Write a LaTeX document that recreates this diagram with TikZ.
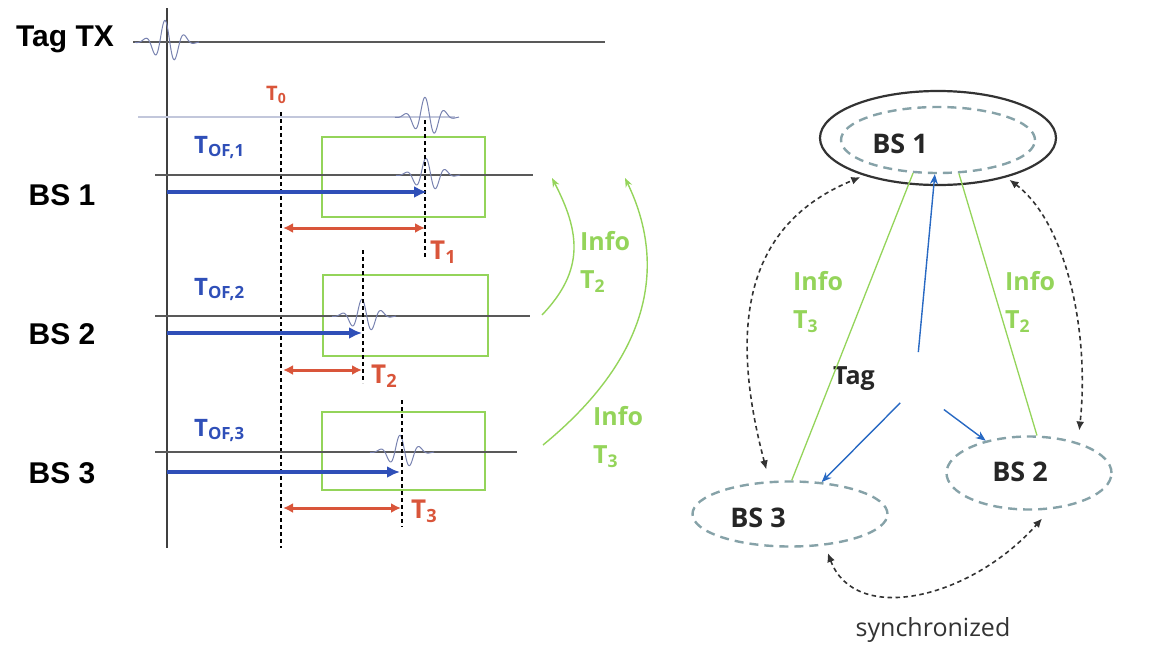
\documentclass[tikz,border=0pt]{standalone}
\usepackage{fontspec}
\setmainfont{Liberation Sans}
\newfontfamily\gillfont{Open Sans}
\usetikzlibrary{arrows.meta,positioning,calc,shapes.geometric}
\definecolor{tofblue}{HTML}{2F4FB8}
\definecolor{delayred}{HTML}{D9553A}
\definecolor{infogreen}{HTML}{94D45A}
\definecolor{wavegray}{HTML}{7882B0}
\definecolor{bsdash}{HTML}{86A2A8}
\newcommand{\wavelet}[3]{%
  \draw[wave] plot[domain=-32:32, samples=120, smooth] ({#1+(\x)},{#2-#3*cos(18*(\x)+40)*exp(-(\x)*(\x)/260)});}
\tikzset{
  axisline/.style={draw=black!75, line width=1.6pt},
  timeline/.style={draw=black!65, line width=1.4pt},
  faintline/.style={draw=wavegray!45, line width=1.2pt},
  wave/.style={draw=wavegray, line width=1pt},
  window/.style={draw=infogreen, line width=1.5pt},
  marker/.style={draw=black, line width=1.2pt, dash pattern=on 4pt off 3pt},
  tofarrow/.style={draw=tofblue, line width=3.5pt, -{Latex[length=13pt,width=12pt]}},
  delayarrow/.style={draw=delayred, line width=3pt, {Latex[length=10pt,width=10pt]}-{Latex[length=10pt,width=10pt]}},
  infoarc/.style={draw=infogreen, line width=1.4pt, -{Stealth[length=9pt,width=7pt]}},
  infoline/.style={draw=infogreen, line width=1.3pt},
  rowlabel/.style={font=\fontsize{30}{30}\selectfont\bfseries, anchor=base},
  toflabel/.style={font=\gillfont\bfseries\fontsize{24}{24}\selectfont, text=tofblue, anchor=base west, inner sep=0pt},
  delaylabel/.style={font=\gillfont\bfseries\fontsize{#1}{#1}\selectfont, text=delayred, anchor=base west, inner sep=0pt},
  delaylabel/.default=26,
  infolabel/.style={font=\gillfont\bfseries\fontsize{25}{38}\selectfont, text=infogreen, align=left, anchor=north west, inner sep=0pt},
  bsnode/.style={ellipse, draw=bsdash, line width=2.4pt, dash pattern=on 9pt off 6pt, inner sep=0pt},
  bslabel/.style={font=\gillfont\bfseries\fontsize{27}{27}\selectfont, text=black!85},
  tagarrow/.style={draw=tofblue!85!cyan, line width=1.4pt, -{Stealth[length=10pt,width=8pt]}},
  syncarrow/.style={draw=black!80, line width=1.6pt, dash pattern=on 4.5pt off 3.5pt, {Latex[length=9pt,width=8pt]}-{Latex[length=9pt,width=8pt]}}
}
\begin{document}
\begin{tikzpicture}[x=1pt, y=-1pt]
\useasboundingbox (0,0) rectangle (1149,648);
% time axis, tag pulse and reference line
\draw[axisline] (167,8) -- (167,548);
\node[rowlabel] (tagtx) at (65,46) {Tag TX};
\draw[timeline] (133,42) -- (605,42);
\wavelet{167}{42}{22}
\draw[faintline] (138,117) -- (455,117);
\wavelet{427}{117}{20}
\node[delaylabel=20] (tzero) at (266,100) {T\textsubscript{0}};
\draw[marker] (281,112) -- (281,548);

% BS 1
\node[rowlabel] (bsone) at (62,205) {BS 1};
\draw[window] (322,137) rectangle (485,217);
\draw[timeline] (155,175) -- (533,175);
\wavelet{428}{175}{17}
\draw[marker] (425,120) -- (425,258);
\draw[tofarrow] (167,192) -- (427,192);
\draw[delayarrow] (283,228) -- (425,228);
\node[toflabel] (tofone) at (194,153) {T\textsubscript{OF,1}};
\node[delaylabel] (tone) at (430,259) {T\textsubscript{1}};

% BS 2
\node[rowlabel] (bstwo) at (62,344) {BS 2};
\draw[window] (323,275) rectangle (488,356);
\draw[timeline] (155,316) -- (530,316);
\wavelet{364}{316}{17}
\draw[marker] (363,250) -- (363,383);
\draw[tofarrow] (167,333) -- (362,333);
\draw[delayarrow] (283,370) -- (362,370);
\node[toflabel] (toftwo) at (194,295) {T\textsubscript{OF,2}};
\node[delaylabel] (ttwo) at (371,383) {T\textsubscript{2}};

% BS 3
\node[rowlabel] (bsthree) at (62,483) {BS 3};
\draw[window] (322,412) rectangle (485,490);
\draw[timeline] (155,452) -- (517,452);
\wavelet{402}{452}{17}
\draw[marker] (402,400) -- (402,527);
\draw[tofarrow] (167,472) -- (400,472);
\draw[delayarrow] (283,508) -- (401,508);
\node[toflabel] (tofthree) at (194,436) {T\textsubscript{OF,3}};
\node[delaylabel] (tthree) at (411,518) {T\textsubscript{3}};

% info sent back to BS 1
\draw[infoarc] (542,315) .. controls (585,270) and (580,232) .. (552,178);
\draw[infoarc] (543,445) .. controls (665,345) and (660,250) .. (625,178);
\node[infolabel] (infotwo) at (580,231) {Info\\T\textsubscript{2}};
\node[infolabel] (infothree) at (593,406) {Info\\T\textsubscript{3}};

% base stations
\node[bsnode, draw=black!80, solid, line width=2.2pt, minimum width=236pt, minimum height=94pt] (bs1) at (938,138) {};
\node[bsnode, minimum width=194pt, minimum height=66pt] (bs1in) at (938,140) {};
\node[bslabel] (bs1text) at (900,144) {BS 1};
\node[bsnode, minimum width=165pt, minimum height=73pt] (bs2) at (1029,473) {};
\node[bslabel] (bs2text) at (1020,472) {BS 2};
\node[bsnode, minimum width=195pt, minimum height=65pt] (bs3) at (790,514) {};
\node[bslabel] (bs3text) at (758,518) {BS 3};
\coordinate (tagpt) at (915,388);
\node[bslabel, font=\gillfont\bfseries\fontsize{25}{25}\selectfont] (tag) at (854,379) {Tag};

\draw[infoline] (bs3.87) -- (bs1in.233);
\draw[infoline] (bs2.78) -- (bs1in.302);
\node[infolabel] (infothreer) at (793,271) {Info\\T\textsubscript{3}};
\node[infolabel] (infotwor) at (1005,271) {Info\\T\textsubscript{2}};

\draw[tagarrow, shorten <=36pt] (tagpt) -- (bs1in);
\draw[tagarrow, shorten <=21pt] (tagpt) -- (bs3);
\draw[tagarrow, shorten <=36pt] (tagpt) -- (bs2);

\draw[syncarrow, shorten <=12pt, shorten >=4pt] (bs3.122) .. controls +(-45,-170) and +(-110,45) .. (bs1.207);
\draw[syncarrow, shorten <=4pt, shorten >=12pt] (bs1.330) .. controls +(60,45) and +(12,-110) .. (bs2.32);
\draw[syncarrow, shorten <=8pt, shorten >=12pt] (bs3.318) .. controls +(30,80) and +(-80,90) .. (bs2.300);
\node[font=\gillfont\fontsize{25}{25}\selectfont, text=black!80] (synclabel) at (933,630) {synchronized};
\end{tikzpicture}
\end{document}
